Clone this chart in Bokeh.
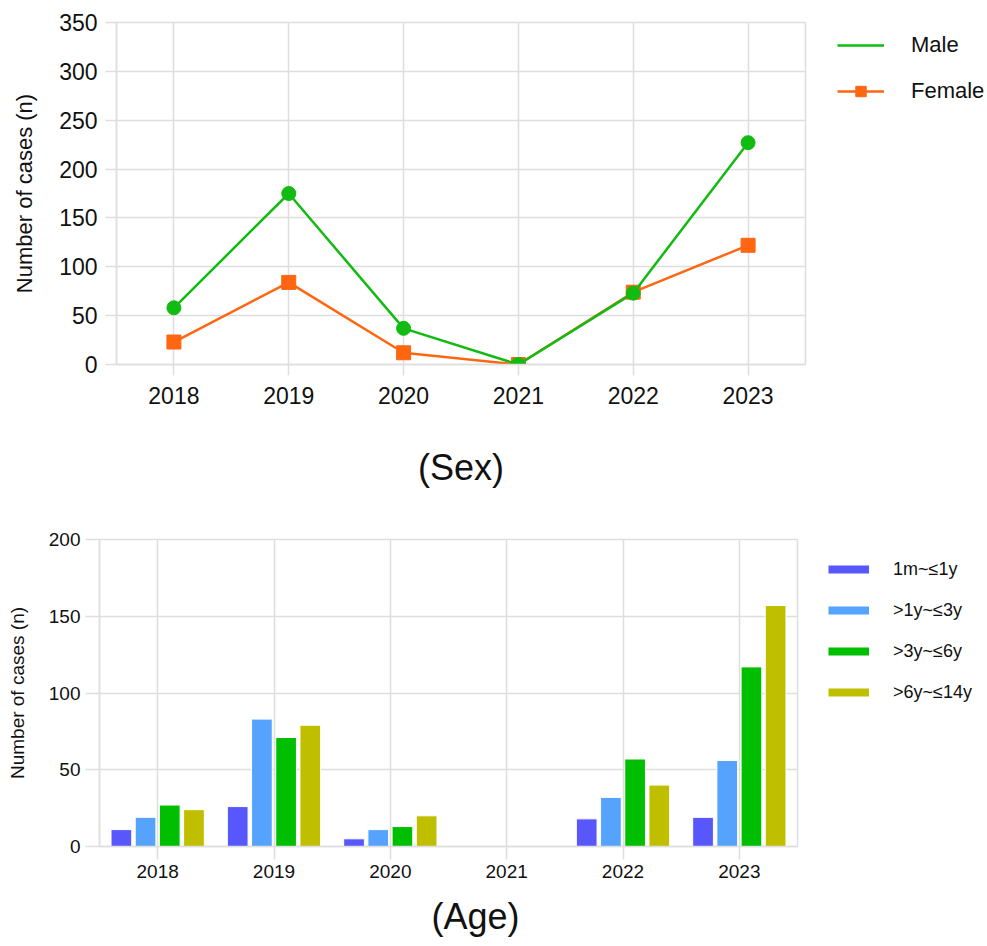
from bokeh.plotting import figure
from bokeh.models import (ColumnDataSource, FactorRange, Range1d, FixedTicker,
                          Legend, LegendItem, Title)
from bokeh.transform import dodge
from bokeh.embed import file_html
from bokeh.resources import INLINE

# ---------------- data ----------------
years = ["2018", "2019", "2020", "2021", "2022", "2023"]
male = [58, 175, 37, 0, 73, 227]
female = [23, 84, 12, 0, 74, 122]

age_labels = ["1m~≤1y", ">1y~≤3y", ">3y~≤6y", ">6y~≤14y"]
age_1m_1y = [11, 26, 5, 0, 18, 19]
age_1y_3y = [19, 83, 11, 0, 32, 56]
age_3y_6y = [27, 71, 13, 0, 57, 117]
age_6y_14y = [24, 79, 20, 0, 40, 157]

sex_ticks = [0, 50, 100, 150, 200, 250, 300, 350]
age_ticks = [0, 50, 100, 150, 200]

FONT = "Liberation Sans"
GRID = "#dedede"
C_MALE = "#11bb11"
C_FEMALE = "#ff6611"
AGE_COLORS = ["#5757fb", "#55a3fc", "#00bf00", "#bfbf00"]


def style(p, tick_size, ylabel_size, ytick_out, xtick_out, ystand, xstand):
    p.outline_line_color = GRID
    p.outline_line_width = 1.5
    p.background_fill_color = "white"
    p.border_fill_color = "white"
    for g in (p.xgrid, p.ygrid):
        g.grid_line_color = GRID
        g.grid_line_width = 1.5
    for ax in p.axis:
        ax.axis_line_color = GRID
        ax.axis_line_width = 1.5
        ax.major_tick_line_color = GRID
        ax.major_tick_line_width = 1.5
        ax.minor_tick_line_color = None
        ax.major_tick_in = 0
        ax.major_label_text_font = FONT
        ax.major_label_text_font_size = tick_size
        ax.major_label_text_color = "#111111"
        ax.axis_label_text_font = FONT
        ax.axis_label_text_font_style = "normal"
        ax.axis_label_text_color = "#111111"
    p.yaxis.major_tick_out = ytick_out
    p.xaxis.major_tick_out = xtick_out
    p.yaxis.major_label_standoff = ystand
    p.xaxis.major_label_standoff = xstand
    p.yaxis.axis_label_text_font_size = ylabel_size
    p.xaxis.axis_label_text_font_size = "36px"


# ---------------- top: sex ----------------
src_sex = ColumnDataSource(dict(year=years, male=male, female=female))

p1 = figure(x_range=FactorRange(factors=years), y_range=Range1d(0, 350),
            frame_width=689, frame_height=342,
            min_border_left=116, min_border_right=182,
            min_border_top=22, min_border_bottom=141,
            output_backend="svg", toolbar_location=None)
style(p1, "23px", "22px", 11, 11, 8, 11)
p1.yaxis.ticker = FixedTicker(ticks=sex_ticks)
p1.yaxis.axis_label = "Number of cases (n)"
p1.yaxis.axis_label_standoff = 19
p1.xaxis.axis_label = "(Sex)"
p1.xaxis.axis_label_standoff = 40

f_line = p1.line(x="year", y="female", source=src_sex, line_color=C_FEMALE, line_width=2.5)
f_mark = p1.scatter(x="year", y="female", source=src_sex, marker="square", size=14,
                    fill_color=C_FEMALE, line_color=C_FEMALE)
m_line = p1.line(x="year", y="male", source=src_sex, line_color=C_MALE, line_width=2.5)
p1.scatter(x="year", y="male", source=src_sex, marker="circle", size=14,
           fill_color=C_MALE, line_color=C_MALE)

leg1 = Legend(items=[LegendItem(label="Male", renderers=[m_line]),
                     LegendItem(label="Female", renderers=[f_line, f_mark])],
              location=(32, 260), padding=0, margin=0, spacing=20,
              glyph_width=47, glyph_height=26, label_height=26, label_standoff=27,
              label_text_font=FONT, label_text_font_size="22px",
              label_text_color="#111111",
              border_line_color=None, background_fill_alpha=0)
p1.add_layout(leg1, "right")

# ---------------- bottom: age ----------------
src_age = ColumnDataSource(dict(year=years, a1=age_1m_1y, a2=age_1y_3y,
                                a3=age_3y_6y, a4=age_6y_14y))

p2 = figure(x_range=FactorRange(factors=years), y_range=Range1d(0, 200),
            frame_width=698, frame_height=307,
            min_border_left=99, min_border_right=190,
            min_border_top=34, min_border_bottom=100,
            output_backend="svg", toolbar_location=None)
style(p2, "19px", "19px", 14, 13, 5, 5)
p2.yaxis.ticker = FixedTicker(ticks=age_ticks)
p2.yaxis.axis_label = "Number of cases (n)"
p2.yaxis.axis_label_standoff = 18

p2.add_layout(Title(text="(Age)", align="left", offset=332, vertical_align="top",
                    standoff=30, text_font=FONT, text_font_size="36px",
                    text_font_style="normal", text_color="#111111"), "below")

offsets = [-0.312, -0.104, 0.104, 0.312]
cols = ["a1", "a2", "a3", "a4"]
proxies = []
for col, off, c in zip(cols, offsets, AGE_COLORS):
    p2.vbar(x=dodge("year", off, range=p2.x_range), top=col, width=0.178,
            source=src_age, fill_color=c, line_color="white", line_width=1)
    # legend-only swatch (hidden on the plot itself)
    proxies.append(p2.line(x="year", y=col, source=src_age, line_color=c,
                           line_width=8, visible=False))

leg2 = Legend(items=[LegendItem(label=lab, renderers=[r]) for lab, r in zip(age_labels, proxies)],
              location=(31, 143), padding=0, margin=0, spacing=19,
              glyph_width=41, glyph_height=22, label_height=22, label_standoff=24,
              label_text_font=FONT, label_text_font_size="18px",
              label_text_color="#111111",
              border_line_color=None, background_fill_alpha=0,
              inactive_fill_alpha=0)
p2.add_layout(leg2, "right")

open("out.html", "w").write(file_html([p1, p2], INLINE))
